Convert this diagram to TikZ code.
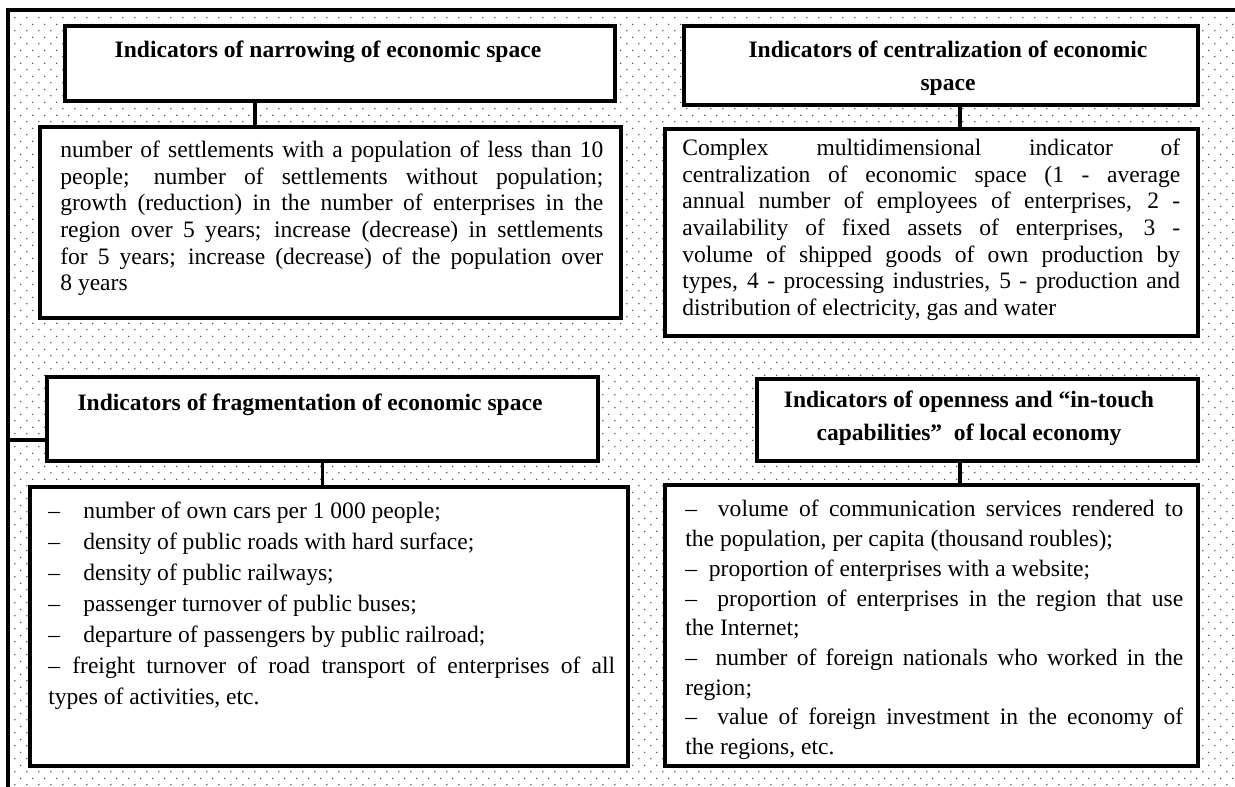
\documentclass[tikz,border=0pt]{standalone}
\usepackage{fontspec}
\setmainfont{Liberation Serif}
\usepackage{tikz}
\usetikzlibrary{patterns,calc}

% sparse dotted background
\pgfdeclarepatternformonly{sparsedots}{\pgfpointorigin}{\pgfqpoint{7pt}{7.6pt}}{\pgfqpoint{7pt}{7.6pt}}{%
  \pgfpathcircle{\pgfqpoint{1.75pt}{1.9pt}}{0.45pt}%
  \pgfpathcircle{\pgfqpoint{5.25pt}{5.7pt}}{0.45pt}%
  \pgfusepath{fill}}

\begin{document}
\begin{tikzpicture}[x=0.02cm, y=-0.02cm,
  box/.style={draw=black, line width=2.2pt, fill=white, inner sep=0pt},
  heading/.style={font=\fontsize{13.4}{18.8}\selectfont\bfseries, align=center, inner sep=0pt},
  body/.style={font=\fontsize{13.4}{15.1}\selectfont, inner sep=0pt, anchor=north west, align=justify},
  link/.style={line width=1.8pt}]
  % canvas and frame
  \useasboundingbox (0,0) rectangle (1235,787);
  \fill[pattern=sparsedots, pattern color=black!75] (8,10) rectangle (1235,787);
  \draw[line width=2.2pt] (8,787) -- (8,10) -- (1235,10);
  \coordinate (spine) at (8,440);

  % boxes
  \node[box, minimum width=11cm, minimum height=1.5cm] (narT) at (340,63.5) {};
  \node[box, minimum width=11.62cm, minimum height=3.82cm] (narB) at (330.5,222.5) {};
  \node[box, minimum width=10.28cm, minimum height=1.58cm] (cenT) at (941,65.5) {};
  \node[box, minimum width=10.66cm, minimum height=4.14cm] (cenB) at (931.5,232.5) {};
  \node[box, minimum width=11.02cm, minimum height=1.68cm] (fraT) at (322.5,419) {};
  \node[box, minimum width=11.96cm, minimum height=5.58cm] (fraB) at (329,626.5) {};
  \node[box, minimum width=8.82cm, minimum height=1.64cm] (opeT) at (977.5,420) {};
  \node[box, minimum width=10.66cm, minimum height=5.62cm] (opeB) at (931.5,625.5) {};

  % headings
  \node[heading] (narHead) at (328,52) {Indicators of narrowing of economic space};
  \node[heading] (cenHead) at (948,68.5) {Indicators of centralization of economic\\space};
  \node[heading] (fraHead) at (310,405) {Indicators of fragmentation of economic space};
  \node[heading] (opeHead) at (969,418) {Indicators of openness and “in-touch\\capabilities”\ \ of local economy};

  % contents
  \node[body, text width=10.86cm] (narList) at (60,141)
    {number of settlements with a population of less than 10\linebreak
     people; number of settlements without population;\linebreak
     growth (reduction) in the number of enterprises in the\linebreak
     region over 5 years; increase (decrease) in settlements\linebreak
     for 5 years; increase (decrease) of the population over\linebreak
     8 years};
  \node[body, text width=9.96cm] (cenList) at (682,139)
    {Complex multidimensional indicator of\linebreak
     centralization of economic space (1 - average\linebreak
     annual number of employees of enterprises, 2 -\linebreak
     availability of fixed assets of enterprises, 3 -\linebreak
     volume of shipped goods of own production by\linebreak
     types, 4 - processing industries, 5 - production and\linebreak
     distribution of electricity, gas and water};
  \node[body, text width=11.34cm, font=\fontsize{13.4}{17.6}\selectfont] (fraList) at (48,502)
    {\makebox[0.7cm][l]{--}number of own cars per 1~000 people;\\
     \makebox[0.7cm][l]{--}density of public roads with hard surface;\\
     \makebox[0.7cm][l]{--}density of public railways;\\
     \makebox[0.7cm][l]{--}passenger turnover of public buses;\\
     \makebox[0.7cm][l]{--}departure of passengers by public railroad;\\
     \makebox[0.48cm][l]{--}freight turnover of road transport of enterprises of all\linebreak
     types of activities, etc.};
  \node[body, text width=9.96cm, font=\fontsize{13.4}{16.9}\selectfont] (opeList) at (685,500)
    {--\ \ volume of communication services rendered to\linebreak
     the population, per capita (thousand roubles);\\
     --\ \ proportion of enterprises with a website;\\
     --\ \ proportion of enterprises in the region that use\linebreak
     the Internet;\\
     --\ \ number of foreign nationals who worked in the\linebreak
     region;\\
     --\ \ value of foreign investment in the economy of\linebreak
     the regions, etc.};

  % connectors
  \draw[link] ([xshift=-1.7cm]narT.south) -- ([xshift=-1.7cm]narT.south |- narB.north);
  \draw[link] ([xshift=0.38cm]cenT.south) -- ([xshift=0.38cm]cenT.south |- cenB.north);
  \draw[link] (fraT.south) -- (fraT.south |- fraB.north);
  \draw[link] ([xshift=-0.35cm]opeT.south) -- ([xshift=-0.35cm]opeT.south |- opeB.north);
  \draw[link] (spine) -- (spine -| fraT.west);
\end{tikzpicture}
\end{document}
